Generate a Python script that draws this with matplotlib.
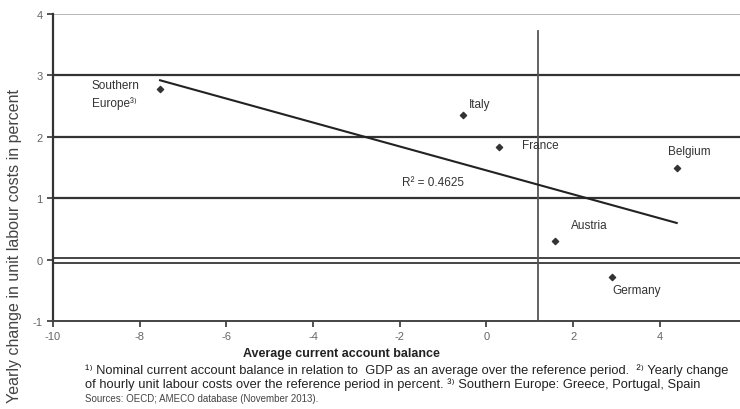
import numpy as np
import matplotlib
matplotlib.use("Agg")
import matplotlib.pyplot as plt

# =========================
# Data
# =========================

countries = ["Southern\nEurope³⁾", "Italy", "France", "Belgium", "Austria", "Germany"]
current_account = [-7.53, -0.53, 0.30, 4.39, 1.59, 2.89]
ulc_change = [2.78, 2.36, 1.84, 1.50, 0.31, -0.29]
r_squared_text = "R² = 0.4625"

x_ticks = [-10, -8, -6, -4, -2, 0, 2, 4]
y_ticks = [-1, 0, 1, 2, 3, 4]
vline_x = 1.2

footnote_1 = "¹⁾ Nominal current account balance in relation to  GDP as an average over the reference period.  ²⁾ Yearly change"
footnote_2 = "of hourly unit labour costs over the reference period in percent. ³⁾ Southern Europe: Greece, Portugal, Spain"
sources = "Sources: OECD; AMECO database (November 2013)."

FONT = ["Liberation Sans", "DejaVu Sans"]
plt.rcParams["font.family"] = FONT
plt.rcParams["axes.unicode_minus"] = False

# =========================
# Figure
# =========================

fig = plt.figure(figsize=(7.4, 4.1), dpi=100)
ax = fig.add_axes([0.0716, 0.2146, 0.9284, 0.7488])

ax.set_xlim(-10, 5.85)
ax.set_ylim(-1, 4)

# horizontal grid lines
for y in [1, 2, 3]:
    ax.axhline(y, color="#333333", lw=1.6, zorder=1)
ax.axhline(4, color="#aaaaaa", lw=1.2, zorder=1)
ax.axhline(0.02, color="#444444", lw=1.4, zorder=1)
ax.axhline(-0.06, color="#444444", lw=1.4, zorder=1)

# vertical reference line
ax.plot([vline_x, vline_x], [-1, 3.72], color="#555555", lw=1.3, zorder=1)

# trend line
slope, intercept = np.polyfit(current_account, ulc_change, 1)
xs = np.array([min(current_account), max(current_account)])
ax.plot(xs, slope * xs + intercept, color="#222222", lw=1.5, zorder=2)

ax.scatter(current_account, ulc_change, marker="D", s=10, color="#333333", zorder=3)

# point labels
label_pos = {
    "Southern\nEurope³⁾": (-9.1, 2.70, "left", "center"),
    "Italy": (-0.4, 2.53, "left", "center"),
    "France": (0.83, 1.86, "left", "center"),
    "Belgium": (4.18, 1.77, "left", "center"),
    "Austria": (1.96, 0.57, "left", "center"),
    "Germany": (2.9, -0.49, "left", "center"),
}
for name in countries:
    x, y, ha, va = label_pos[name]
    ax.text(x, y, name, ha=ha, va=va, fontsize=8.5, color="#333333", linespacing=1.5)

ax.text(-1.95, 1.27, r_squared_text, fontsize=8.5, color="#333333", va="center")

# axes styling
ax.spines["top"].set_visible(False)
ax.spines["right"].set_visible(False)
ax.spines["left"].set_color("#333333")
ax.spines["left"].set_linewidth(1.6)
ax.spines["bottom"].set_color("#444444")
ax.spines["bottom"].set_linewidth(1.4)
ax.set_xticks(x_ticks)
ax.set_yticks(y_ticks)
ax.tick_params(axis="both", direction="out", length=4, width=1.2, color="#333333",
               labelsize=8, labelcolor="#666666")

ax.set_xlabel("Average current account balance", fontsize=9, fontweight="bold",
              color="#222222", labelpad=2)
ax.xaxis.set_label_coords(0.42, -0.085)

fig.text(0.02, 0.40, "Yearly change in unit labour costs in percent", rotation=90,
         ha="center", va="center", fontsize=11.5, color="#444444")

fig.text(0.115, 0.097, footnote_1, fontsize=9.3, color="#222222", va="center")
fig.text(0.115, 0.062, footnote_2, fontsize=9.3, color="#222222", va="center")
fig.text(0.115, 0.027, sources, fontsize=7, color="#444444", va="center")

fig.savefig("out.png", dpi=100)
